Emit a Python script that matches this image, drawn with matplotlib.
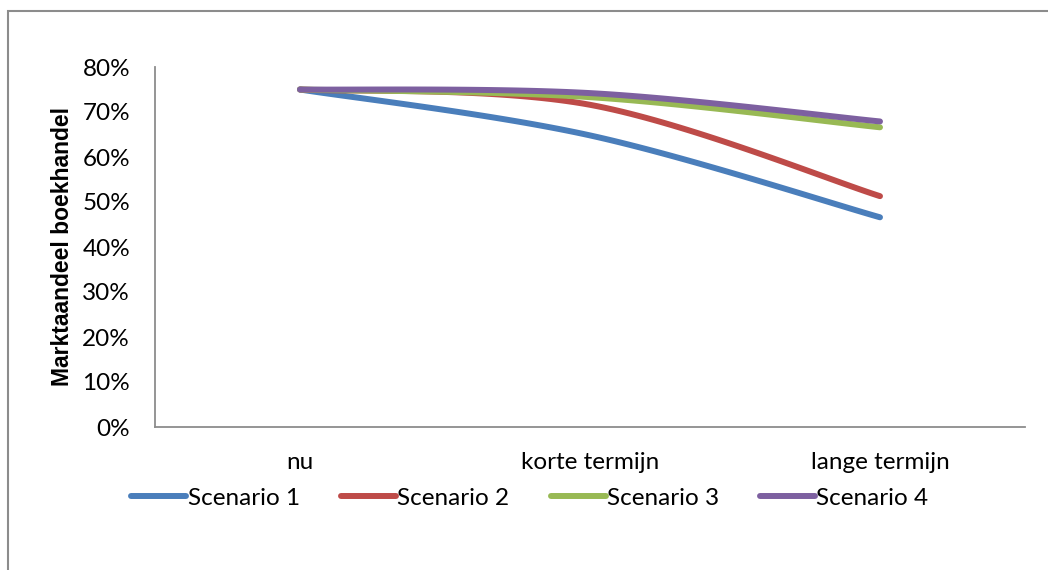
import matplotlib
matplotlib.use('Agg')
import matplotlib.pyplot as plt
import numpy as np
from matplotlib.patches import Rectangle
from matplotlib.ticker import PercentFormatter

categories = ["nu", "korte termijn", "lange termijn"]
scenario_names = ["Scenario 1", "Scenario 2", "Scenario 3", "Scenario 4"]
scenario_1 = [75.0, 64.8, 46.6]
scenario_2 = [75.0, 71.6, 51.3]
scenario_3 = [75.0, 73.3, 66.6]
scenario_4 = [75.0, 74.2, 67.9]
colors = ["#4A7EBB", "#BE4B48", "#98B954", "#7D60A0"]


def excel_smooth(xs, ys, steps=40):
    # Bezier smoothing like Excel's "smoothed line" option
    pts = np.column_stack([xs, ys]).astype(float)
    n = len(pts)
    out = []
    for i in range(n - 1):
        p0 = pts[max(i - 1, 0)]
        p1 = pts[i]
        p2 = pts[i + 1]
        p3 = pts[min(i + 2, n - 1)]
        c1 = p1 + (p2 - p0) / 6.0
        c2 = p2 - (p3 - p1) / 6.0
        t = np.linspace(0, 1, steps)[:, None]
        seg = ((1 - t) ** 3) * p1 + 3 * ((1 - t) ** 2) * t * c1 \
            + 3 * (1 - t) * t ** 2 * c2 + t ** 3 * p2
        out.append(seg if i == 0 else seg[1:])
    out = np.vstack(out)
    return out[:, 0], out[:, 1]


plt.rcParams['font.family'] = ['Lato', 'DejaVu Sans']

fig = plt.figure(figsize=(10.48, 5.70), dpi=100)
ax = fig.add_axes([155 / 1048, 1 - 427 / 570, 870 / 1048, 360 / 570])

x = np.arange(len(categories))
for name, vals, col in zip(scenario_names,
                           [scenario_1, scenario_2, scenario_3, scenario_4], colors):
    sx, sy = excel_smooth(x, vals)
    ax.plot(sx, sy, color=col, lw=4.3, solid_capstyle='round', label=name)

ax.set_xlim(-0.5, len(categories) - 0.5)
ax.set_ylim(0, 80)
ax.set_yticks(np.arange(0, 81, 10))
ax.yaxis.set_major_formatter(PercentFormatter(decimals=0))
ax.set_xticks(x)
ax.set_xticklabels(categories)
ax.tick_params(length=0, labelsize=17.5, colors='black')
ax.tick_params(axis='x', pad=18)
ax.tick_params(axis='y', pad=18)
for s in ['top', 'right']:
    ax.spines[s].set_visible(False)
for s in ['left', 'bottom']:
    ax.spines[s].set_color('#8c8c8c')
    ax.spines[s].set_linewidth(1.3)

ax.set_ylabel("Marktaandeel boekhandel", fontsize=16.5, fontweight='bold',
              family='Liberation Sans', labelpad=6)

ax.legend(loc='center', bbox_to_anchor=(530 / 1048, 1 - 498 / 570),
          bbox_transform=fig.transFigure, ncol=4, frameon=False,
          fontsize=17.5, handlelength=2.26, handletextpad=0.05,
          columnspacing=1.7, borderpad=0)

fig.patches.append(Rectangle((8 / 1048, -0.1), 1.2, (570 - 11) / 570 + 0.1,
                             transform=fig.transFigure, fill=False,
                             edgecolor='#8c8c8c', linewidth=1.5))

fig.savefig("out.png", dpi=100)
